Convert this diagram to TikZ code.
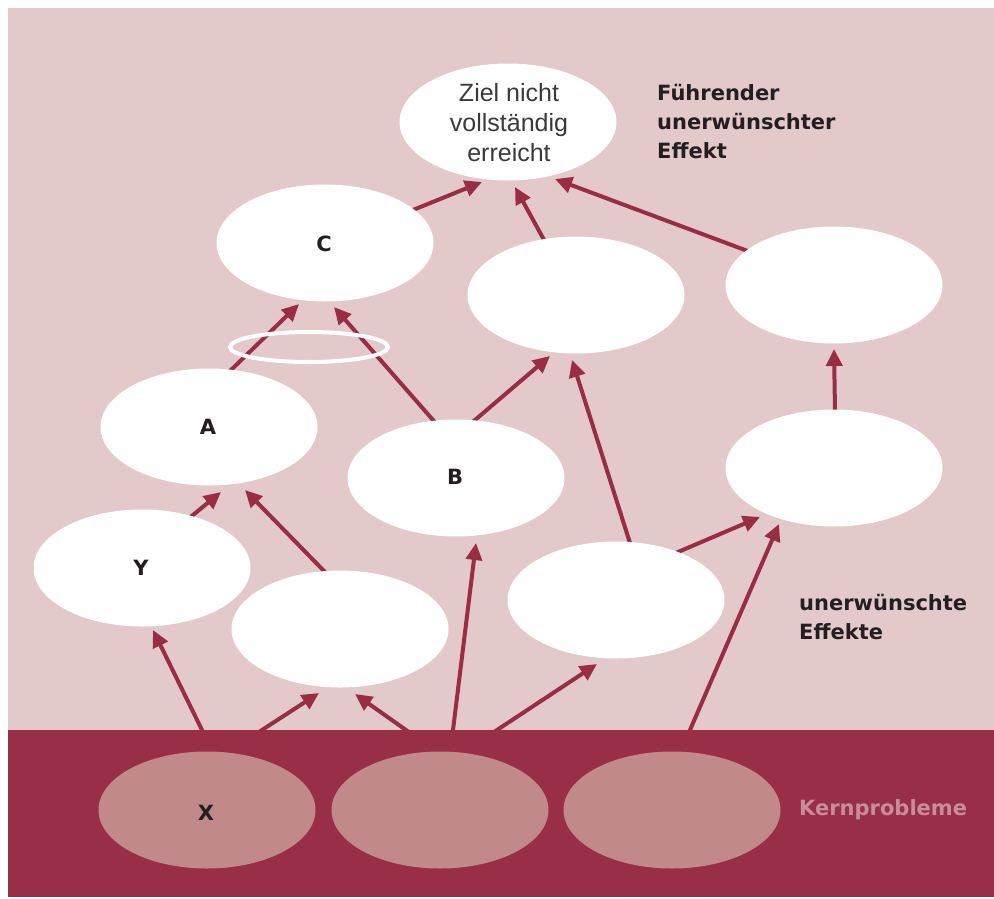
\documentclass[tikz,border=0pt]{standalone}
\usepackage{fontspec}
\setmainfont{Liberation Sans}
\newfontfamily\boldfam{DejaVu Sans}
\usetikzlibrary{shapes.geometric,arrows.meta,calc}
\definecolor{bgpink}{HTML}{E3C9C9}
\definecolor{band}{HTML}{982F47}
\definecolor{corefill}{HTML}{C2898B}
\definecolor{arrowred}{HTML}{9A2D46}
\definecolor{labeldark}{HTML}{231F20}
\definecolor{maintext}{HTML}{3A3A3A}
\definecolor{coretext}{HTML}{C98D95}
\begin{document}
\begin{tikzpicture}[x=1pt,y=-1pt,
  blob/.style={ellipse,fill=white,minimum width=217pt,minimum height=117pt,inner sep=0pt},
  core/.style={ellipse,fill=corefill,minimum width=217pt,minimum height=117pt,inner sep=0pt},
  arr/.style={draw=arrowred,line width=4pt,-{Triangle[length=17pt,width=16pt]}},
  lbl/.style={font=\boldfam\bfseries\fontsize{21}{29}\selectfont,text=labeldark},
]
\useasboundingbox (0,0) rectangle (994,898);
\fill[white] (0,0) rectangle (994,898);
\fill[bgpink] (8,8) rectangle (994,730);

% arrow end points
\coordinate (s1) at (413,210); \coordinate (t1) at (482,182);
\coordinate (s2) at (543,238); \coordinate (t2) at (515,187);
\coordinate (s3) at (745,250); \coordinate (t3) at (555,179);
\coordinate (s4) at (231,370); \coordinate (t4) at (299,304);
\coordinate (s5) at (433,420); \coordinate (t5) at (334,307);
\coordinate (s6) at (475,420); \coordinate (t6) at (550,356);
\coordinate (s7) at (835,410); \coordinate (t7) at (834,349);
\coordinate (s8) at (193,515); \coordinate (t8) at (221,492);
\coordinate (s9) at (325,572); \coordinate (t9) at (245,490);
\coordinate (s10) at (630,543); \coordinate (t10) at (572,360);
\coordinate (s11) at (678,552); \coordinate (t11) at (760,517);
\coordinate (s12) at (202,730); \coordinate (t12) at (153,630);
\coordinate (s13) at (262,730); \coordinate (t13) at (319,693);
\coordinate (s14) at (406,730); \coordinate (t14) at (355,694);
\coordinate (s15) at (453,730); \coordinate (t15) at (476,543);
\coordinate (s16) at (497,730); \coordinate (t16) at (597,664);
\coordinate (s17) at (690,730); \coordinate (t17) at (779,524);

\foreach \i in {1,...,17}{
  \draw[arr] ($(s\i)!-16pt!(t\i)$) -- (t\i);
}

\fill[band] (8,730) rectangle (994,897);

% core problems
\node[core] (X) at (207,810) {};
\node[core] (K2) at (440,810) {};
\node[core] (K3) at (672,810) {};

% effects
\node[blob] (Ziel) at (508,122) {};
\node[blob] (C) at (325,243) {};
\node[blob] (M) at (576,295) {};
\node[blob] (R) at (834,285) {};
\node[blob] (A) at (209,427) {};
\node[blob] (B) at (456,478) {};
\node[blob] (RM) at (834,468) {};
\node[blob] (Y) at (142,568) {};
\node[blob] (LM) at (340,629) {};
\node[blob] (LR) at (616,600) {};

\node[ellipse,draw=white,line width=4pt,minimum width=158pt,minimum height=30pt,inner sep=0pt] (ring) at (309,347) {};

% texts
\node[align=center,text=maintext,font=\fontsize{25}{30}\selectfont] (zieltext) at (509,123) {Ziel nicht\\vollständig\\erreicht};
\node[lbl] (Ct) at (324,244) {C};
\node[lbl] (At) at (208,427) {A};
\node[lbl] (Bt) at (455,477) {B};
\node[lbl] (Yt) at (141,568) {Y};
\node[lbl] (Xt) at (206,813) {X};
\node[lbl,anchor=west,align=left,inner sep=0pt] (fuehr) at (657,122) {Führender\\unerwünschter\\Effekt};
\node[lbl,anchor=west,align=left,inner sep=0pt] (uneff) at (799,617) {unerwünschte\\Effekte};
\node[lbl,anchor=west,inner sep=0pt,text=coretext] (kern) at (799,810) {Kernprobleme};
\end{tikzpicture}
\end{document}
